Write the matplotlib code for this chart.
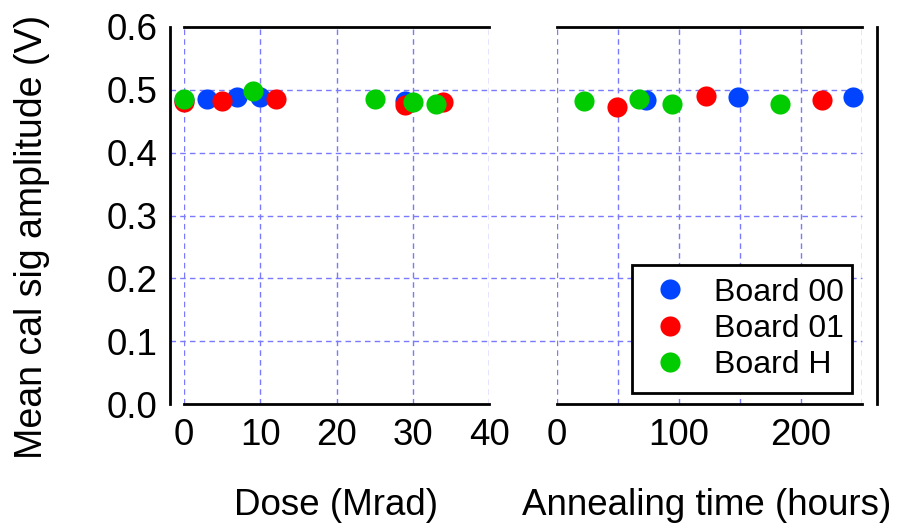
import matplotlib
matplotlib.use("Agg")
import matplotlib.pyplot as plt

plt.rcParams["font.family"] = ["Liberation Sans", "DejaVu Sans"]

# Irradiation phase: dose in Mrad
dose_b00 = [0, 3, 7, 10, 29]
amp_dose_b00 = [0.484, 0.486, 0.488, 0.488, 0.483]
dose_b01 = [0, 5, 12, 29, 34]
amp_dose_b01 = [0.480, 0.483, 0.485, 0.476, 0.480]
dose_bh = [0, 9, 25, 30, 33]
amp_dose_bh = [0.485, 0.498, 0.486, 0.480, 0.477]

# Annealing phase: time in hours
anneal_b00 = [73, 148, 243]
amp_anneal_b00 = [0.484, 0.489, 0.489]
anneal_b01 = [49, 122, 217]
amp_anneal_b01 = [0.472, 0.490, 0.484]
anneal_bh = [22, 67, 94, 183]
amp_anneal_bh = [0.483, 0.486, 0.4775, 0.4775]

board_names = ["Board 00", "Board 01", "Board H"]
board_colors = ["#0044ff", "#ff0000", "#00cc00"]

y_ticks = [0.0, 0.1, 0.2, 0.3, 0.4, 0.5, 0.6]
dose_ticks = [0, 10, 20, 30, 40]
anneal_ticks = [0, 100, 200]
anneal_minor = [50, 150, 250]

FS = 26.5
GRID = dict(color="#7a7aff", linestyle=(0, (4, 3)), linewidth=1.0)

fig = plt.figure(figsize=(9.02, 5.23), dpi=100)
ax_d = fig.add_axes([184 / 902, 119 / 523, 305 / 902, 377 / 523])
ax_a = fig.add_axes([557 / 902, 119 / 523, 305 / 902, 377 / 523])
ax_a.patch.set_visible(False)

for ax in (ax_d, ax_a):
    ax.set_ylim(0, 0.6)
    ax.set_axisbelow(True)
    for side in ("top", "bottom"):
        ax.spines[side].set_linewidth(2)
    ax.tick_params(which="both", length=0, labelsize=FS, pad=10)
    ax.grid(axis="x", which="both", **GRID)

# left panel: offset y axis
ax_d.spines["right"].set_visible(False)
ax_d.spines["left"].set_linewidth(2)
ax_d.spines["left"].set_position(("outward", 10))
ax_d.set_xlim(0, 40)
ax_d.set_xticks(dose_ticks)
ax_d.set_yticks(y_ticks)
ax_d.set_yticklabels([f"{v:.1f}" for v in y_ticks])
ax_d.tick_params(axis="y", pad=9)

# horizontal grid runs across both panels
for v in y_ticks[1:-1]:
    ax_d.axhline(v, xmin=-14 / 305, xmax=678 / 305, clip_on=False, zorder=0.5, **GRID)

# right panel: no y labels, offset right spine
ax_a.spines["left"].set_visible(False)
ax_a.spines["right"].set_linewidth(2)
ax_a.spines["right"].set_position(("outward", 11))
ax_a.set_xlim(0, 250)
ax_a.set_xticks(anneal_ticks)
ax_a.set_xticks(anneal_minor, minor=True)
ax_a.set_yticks(y_ticks)
ax_a.tick_params(axis="y", left=False, right=False, labelleft=False, labelright=False)

mk = dict(marker="o", linestyle="none", markersize=14.5, markeredgewidth=0, clip_on=False, zorder=3)
dose_sets = [(dose_b00, amp_dose_b00), (dose_b01, amp_dose_b01), (dose_bh, amp_dose_bh)]
anneal_sets = [(anneal_b00, amp_anneal_b00), (anneal_b01, amp_anneal_b01), (anneal_bh, amp_anneal_bh)]
for (xd, yd), (xa, ya), name, col in zip(dose_sets, anneal_sets, board_names, board_colors):
    ax_d.plot(xd, yd, color=col, **mk)
    ax_a.plot(xa, ya, color=col, label=name, **mk)

ax_d.set_ylabel("Mean cal sig amplitude (V)", fontsize=27)
ax_d.yaxis.set_label_coords(-0.439, 0.443)
ax_d.set_xlabel("Dose (Mrad)", fontsize=FS)
ax_d.xaxis.set_label_coords(0.5, -0.223)
ax_a.set_xlabel("Annealing time (hours)", fontsize=FS)
ax_a.xaxis.set_label_coords(0.49, -0.223)

leg = ax_a.legend(loc="lower left", bbox_to_anchor=(0.246, 0.029, 0.721, 0.34), mode="expand",
                  fontsize=23, frameon=True, fancybox=False, framealpha=1, edgecolor="black",
                  borderaxespad=0, borderpad=0.4, handlelength=1.6, handletextpad=0.56,
                  labelspacing=0.2)
leg.get_frame().set_linewidth(2)
leg.set_zorder(5)

fig.savefig("out.png", dpi=100)
